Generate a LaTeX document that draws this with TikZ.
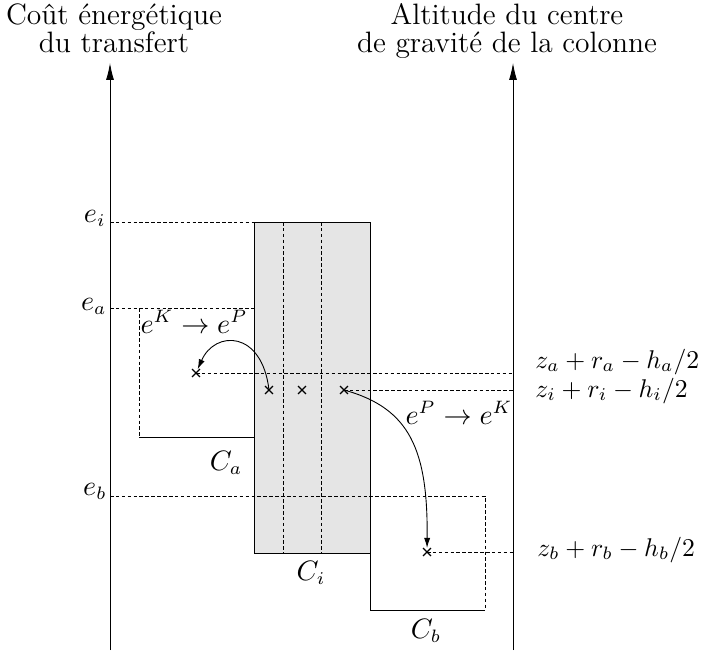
\documentclass[tikz,border=0pt]{standalone}
\usetikzlibrary{arrows.meta,shapes.misc}
\begin{document}
\begin{tikzpicture}[x=0.39pt,y=-0.39pt,line width=0.35pt,
  axis/.style={-{Latex[length=6.6pt,width=3.1pt]}},
  dsh/.style={dash pattern=on 1.4pt off 0.9pt},
  crossmark/.style={cross out,draw,inner sep=0pt,minimum size=2.6pt,line width=0.45pt},
  flow/.style={-{Latex[length=3.9pt,width=2.4pt]},shorten >=1.6pt},
  lbl/.style={inner sep=0pt},
  title/.style={align=center,inner sep=0pt,font=\fontsize{11.5}{13.5}\selectfont}]
\useasboundingbox (0,0) rectangle (704,658);
% axes
\coordinate (Lb) at (110,650); \coordinate (Lt) at (110,63);
\coordinate (Rb) at (513,650); \coordinate (Rt) at (513,63);
\draw[axis] (Lb) -- (Lt);
\draw[axis] (Rb) -- (Rt);
\node[title,anchor=north] (tl) at (114,3) {Coût énergétique\\[-2.5pt]du transfert};
\node[title,anchor=north] (tr) at (507,3) {Altitude du centre\\[-2.5pt]de gravité de la colonne};
% column C_i
\filldraw[fill=gray!20,draw=black] (254,222) rectangle (370,553);
\draw[dsh] (283,222) -- (283,553);
\draw[dsh] (321,222) -- (321,553);
% levels
\coordinate (ei) at (110,222);
\coordinate (ea) at (110,308);
\coordinate (eb) at (110,496);
\draw[dsh] (ei) -- (254,222);
\draw[dsh] (ea) -- (139,308) -- (139,437);
\draw[dsh] (139,308) -- (254,308);
\draw (139,437) -- (254,437);
\draw[dsh] (eb) -- (485,496) -- (485,610);
\draw (370,553) -- (370,610) -- (485,610);
\node[lbl,anchor=base east,font=\fontsize{10.5}{12}\selectfont] (lei) at (106,222) {$e_i$};
\node[lbl,anchor=base east,font=\fontsize{10.5}{12}\selectfont] (lea) at (107,310) {$e_a$};
\node[lbl,anchor=base east,font=\fontsize{10.5}{12}\selectfont] (leb) at (107,495) {$e_b$};
% crosses
\node[crossmark] (xa) at (196,373) {};
\node[crossmark] (x1) at (269,390) {};
\node[crossmark] (x2) at (302,390) {};
\node[crossmark] (x3) at (344,390) {};
\node[crossmark] (xb) at (427,552) {};
\coordinate (ra) at (513,373);
\coordinate (ri) at (513,390);
\coordinate (rb) at (513,552);
\draw[dsh] (xa.center) -- (ra);
\draw[dsh] (x3.center) -- (ri);
\draw[dsh] (xb.center) -- (rb);
\node[lbl,anchor=base west] (za) at (535,368) {$z_a + r_a - h_a/2$};
\node[lbl,anchor=base west] (zi) at (535,397) {$z_i + r_i - h_i/2$};
\node[lbl,anchor=base west] (zb) at (537,556) {$z_b + r_b - h_b/2$};
% transfers
\draw[flow] (x1.center) .. controls (262,330) and (215,330) .. (xa.center);
\draw[flow] (x3.center) .. controls (410,408) and (428,450) .. (xb.center);
\node[lbl,anchor=base,font=\fontsize{10.5}{12}\selectfont] (kp) at (194,333) {$e^K \rightarrow e^P$};
\node[lbl,anchor=base,font=\fontsize{10.5}{12}\selectfont] (pk) at (459,424) {$e^P \rightarrow e^K$};
% box labels
\node[lbl,anchor=base,font=\fontsize{10.5}{12}\selectfont] (ca) at (226,470) {$C_a$};
\node[lbl,anchor=base,font=\fontsize{10.5}{12}\selectfont] (ci) at (311,580) {$C_i$};
\node[lbl,anchor=base,font=\fontsize{10.5}{12}\selectfont] (cb) at (426,638) {$C_b$};
\end{tikzpicture}
\end{document}
